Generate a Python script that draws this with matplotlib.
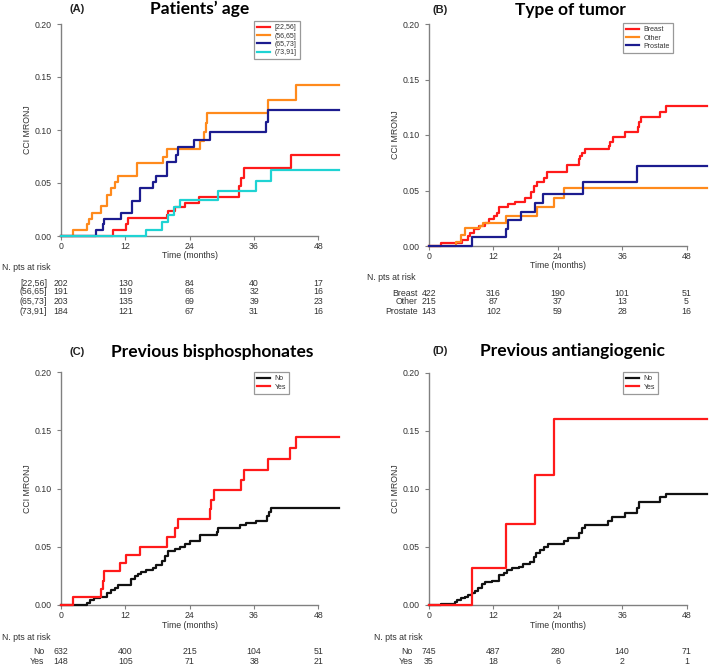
import matplotlib
matplotlib.use("Agg")
import matplotlib.pyplot as plt
import matplotlib.transforms as mtransforms

plt.rcParams['font.family'] = ['Liberation Sans', 'DejaVu Sans']

# ---- data ----
t_end = 51.8
risk_times = [0, 12, 24, 36, 48]

# (A) patients' age
age_labels = ["[22,56]", "(56,65]", "(65,73]", "(73,91]"]
age_t = [
    [0, 9.7, 12.2, 12.5, 19.8, 20.0, 21.2, 23.1, 25.7, 33.2, 33.5, 34.2, 42.9, t_end],
    [0, 2.2, 4.9, 5.3, 5.8, 7.4, 8.6, 9.4, 10.0, 10.7, 14.2, 19.0, 19.7, 25.9, 26.7, 27.0, 27.3, 38.6, 43.8, t_end],
    [0, 6.5, 7.8, 8.0, 11.1, 13.3, 14.7, 17.2, 17.7, 19.7, 19.8, 21.5, 21.8, 24.7, 27.8, 38.3, 38.6, t_end],
    [0, 15.9, 18.9, 19.9, 21.0, 22.1, 29.3, 36.3, 39.1, t_end],
]
age_v = [
    [0, 0.006, 0.011, 0.017, 0.020, 0.024, 0.027, 0.031, 0.037, 0.047, 0.055, 0.064, 0.076, 0.076],
    [0, 0.006, 0.011, 0.016, 0.022, 0.028, 0.039, 0.045, 0.051, 0.057, 0.069, 0.075, 0.082, 0.090, 0.098, 0.107, 0.116, 0.128, 0.142, 0.142],
    [0, 0.006, 0.011, 0.016, 0.022, 0.033, 0.045, 0.051, 0.057, 0.064, 0.070, 0.076, 0.084, 0.091, 0.098, 0.108, 0.119, 0.119],
    [0, 0.006, 0.013, 0.020, 0.027, 0.034, 0.042, 0.052, 0.062, 0.062],
]
age_risk = [[202, 130, 84, 40, 17], [191, 119, 66, 32, 16],
            [203, 135, 69, 39, 23], [184, 121, 67, 31, 16]]

# (B) type of tumor
tum_labels = ["Breast", "Other", "Prostate"]
tum_t = [
    [0, 2.2, 6.1, 7.2, 7.6, 8.3, 9.3, 10.5, 11.1, 12.2, 12.6, 13.1, 14.8, 16.1, 17.9, 19.0, 19.6, 20.1,
     21.4, 22.0, 25.8, 27.9, 28.2, 28.6, 29.1, 33.5, 33.7, 34.3, 36.5, 39.0, 39.2, 39.5, 43.0, 44.2, t_end],
    [0, 5.0, 6.0, 6.7, 9.5, 10.1, 14.3, 20.1, 23.3, 25.1, t_end],
    [0, 8.0, 14.3, 14.8, 17.1, 19.8, 21.2, 28.7, 38.8, t_end],
]
tum_v = [
    [0, 0.003, 0.005, 0.009, 0.012, 0.015, 0.018, 0.021, 0.024, 0.027, 0.030, 0.035, 0.038, 0.040, 0.043, 0.049, 0.054, 0.058,
     0.061, 0.067, 0.073, 0.078, 0.081, 0.084, 0.087, 0.090, 0.094, 0.098, 0.103, 0.107, 0.112, 0.116, 0.121, 0.126, 0.126],
    [0, 0.004, 0.010, 0.016, 0.018, 0.021, 0.027, 0.035, 0.043, 0.052, 0.052],
    [0, 0.008, 0.015, 0.023, 0.031, 0.039, 0.047, 0.058, 0.072, 0.072],
]
tum_risk = [[422, 316, 190, 101, 51], [215, 87, 37, 13, 5], [143, 102, 59, 28, 16]]

# (C) previous bisphosphonates
bis_labels = ["No", "Yes"]
bis_t = [
    [0, 4.8, 5.4, 6.2, 7.3, 8.5, 9.4, 10.0, 10.7, 13.0, 13.8, 14.3, 15.0, 15.9, 17.1, 17.8, 18.9, 19.3,
     20.0, 21.2, 22.1, 23.1, 24.0, 25.9, 29.0, 29.3, 33.3, 34.5, 36.4, 38.4, 38.8, 39.2, t_end],
    [0, 2.2, 7.4, 7.8, 8.0, 11.0, 12.2, 14.8, 19.7, 21.2, 21.8, 27.8, 28.0, 28.5, 33.6, 34.1, 38.6, 42.7, 43.8, t_end],
]
bis_v = [
    [0, 0.002, 0.004, 0.006, 0.007, 0.010, 0.013, 0.015, 0.017, 0.022, 0.025, 0.027, 0.028, 0.030, 0.032, 0.034, 0.038, 0.042,
     0.046, 0.048, 0.050, 0.052, 0.055, 0.060, 0.063, 0.066, 0.069, 0.070, 0.072, 0.076, 0.080, 0.083, 0.083],
    [0, 0.007, 0.014, 0.021, 0.029, 0.036, 0.043, 0.050, 0.058, 0.066, 0.074, 0.082, 0.090, 0.099, 0.107, 0.116, 0.125, 0.135, 0.144, 0.144],
]
bis_risk = [[632, 400, 215, 104, 51], [148, 105, 71, 38, 21]]

# (D) previous antiangiogenic
ang_labels = ["No", "Yes"]
ang_t = [
    [0, 2.2, 4.9, 5.2, 6.0, 6.7, 7.3, 8.0, 8.6, 9.2, 9.8, 10.5, 11.7, 13.1, 13.9, 14.5, 15.4, 16.7, 17.6, 18.9,
     19.5, 19.9, 20.7, 21.4, 22.2, 25.1, 25.9, 27.9, 28.5, 29.1, 33.4, 34.1, 36.5, 38.8, 39.2, 43.1, 44.1, t_end],
    [0, 8.1, 14.3, 19.8, 23.3, t_end],
]
ang_v = [
    [0, 0.001, 0.003, 0.004, 0.006, 0.007, 0.009, 0.010, 0.012, 0.015, 0.018, 0.020, 0.021, 0.026, 0.028, 0.030, 0.032, 0.033, 0.035, 0.037,
     0.041, 0.045, 0.047, 0.050, 0.053, 0.055, 0.058, 0.062, 0.066, 0.069, 0.072, 0.076, 0.079, 0.084, 0.089, 0.093, 0.096, 0.096],
    [0, 0.032, 0.070, 0.112, 0.160, 0.160],
]
ang_risk = [[745, 487, 280, 140, 71], [35, 18, 6, 2, 1]]

RED = "#ff1a1a"
ORANGE = "#ff8a1c"
NAVY = "#1c1c8f"
CYAN = "#1fd3d3"
BLACK = "#111111"
GRAY = "#808080"
TXT = "#333333"

W, H = 709, 666
fig = plt.figure(figsize=(W / 100, H / 100), dpi=100)


def fx(px):
    return px / W


def fy(py):
    return 1 - py / H


def panel(left, top, bottom, letter, title, title_x, title_y,
          ts, vs, labels, colors, risk, risk_ys, risk_head, lab_right,
          legend_box, tick_y):
    px_per_month = 257.5 / 48
    right = left + t_end * px_per_month
    ax = fig.add_axes([fx(left), fy(bottom), fx(right) - fx(left), (bottom - top) / H])
    for t, v, c, lab in zip(ts, vs, colors, labels):
        ax.step(t, v, where='post', color=c, lw=1.6, label=lab, clip_on=False, zorder=3)
    ax.set_xlim(0, t_end)
    ax.set_ylim(0, 0.2)
    ax.set_xticks(risk_times)
    ax.set_yticks([0, 0.05, 0.10, 0.15, 0.20])
    ax.set_yticklabels(["0.00", "0.05", "0.10", "0.15", "0.20"])
    for s in ['top', 'right']:
        ax.spines[s].set_visible(False)
    for s in ['left', 'bottom']:
        ax.spines[s].set_color(GRAY)
        ax.spines[s].set_linewidth(1.0)
    ax.spines['bottom'].set_bounds(0, 48)
    ax.spines['left'].set_bounds(0, 0.2)
    ax.tick_params(axis='both', colors=GRAY, labelcolor=TXT, labelsize=6.3,
                   length=3, width=0.8, direction='out')
    ax.tick_params(axis='x', pad=1.2)
    ax.tick_params(axis='y', pad=4)
    ax.patch.set_alpha(0)

    # y label
    fig.text(fx(left - 34), fy((top + bottom) / 2), "CCI MRONJ", rotation=90,
             ha='center', va='center', fontsize=6.3, color=TXT)
    # x label
    bt = mtransforms.blended_transform_factory(ax.transData, fig.transFigure)
    ax.text(24, fy(tick_y + 10), "Time (months)", transform=bt, ha='center',
            va='center', fontsize=6.3, color=TXT)

    # titles
    fig.text(fx(title_x[0]), fy(title_y), letter, ha='center', va='center',
             fontsize=8, fontweight='bold', color='#222222')
    fig.text(fx(title_x[1]), fy(title_y), title, ha='center', va='center',
             fontsize=12.5, fontweight='bold', family='Lato', color='black')

    # legend
    lx, ly = legend_box
    leg = ax.legend(loc='upper left', bbox_to_anchor=(fx(lx), fy(ly)),
                    bbox_transform=fig.transFigure, fontsize=5, frameon=True,
                    fancybox=False, handlelength=1.9, handletextpad=0.6,
                    borderpad=0.45, labelspacing=0.2, borderaxespad=0)
    leg.get_frame().set_edgecolor(GRAY)
    leg.get_frame().set_linewidth(0.9)
    for txt in leg.get_texts():
        txt.set_color(TXT)

    # risk table
    hx, hy = risk_head
    fig.text(fx(hx), fy(hy), "N. pts at risk", ha='left', va='center',
             fontsize=6.3, color=TXT)
    for lab, row, ry in zip(labels, risk, risk_ys):
        fig.text(fx(lab_right), fy(ry), lab, ha='right', va='center',
                 fontsize=6.3, color=TXT)
        for tt, n in zip(risk_times, row):
            ax.text(tt, fy(ry), str(n), transform=bt, ha='center',
                    va='center', fontsize=6.3, color=TXT)
    return ax


panel(61, 24, 236, "(A)", "Patients\u2019 age", (77, 200), 9,
      age_t, age_v, age_labels, [RED, ORANGE, NAVY, CYAN], age_risk,
      [283, 292, 302, 312], (2, 268), 47, (254, 21), 246)

panel(429, 24, 246, "(B)", "Type of tumor", (440, 570), 10,
      tum_t, tum_v, tum_labels, [RED, ORANGE, NAVY], tum_risk,
      [293, 302, 312], (367, 278), 418, (623, 23), 256)

panel(61, 372, 605, "(C)", "Previous bisphosphonates", (77, 212), 352,
      bis_t, bis_v, bis_labels, [BLACK, RED], bis_risk,
      [652, 661], (2, 637), 44, (254, 372), 615)

panel(429, 373, 605, "(D)", "Previous antiangiogenic", (440, 572), 351,
      ang_t, ang_v, ang_labels, [BLACK, RED], ang_risk,
      [652, 661], (374, 638), 413, (623, 372), 615)

fig.savefig("out.png", dpi=100)
